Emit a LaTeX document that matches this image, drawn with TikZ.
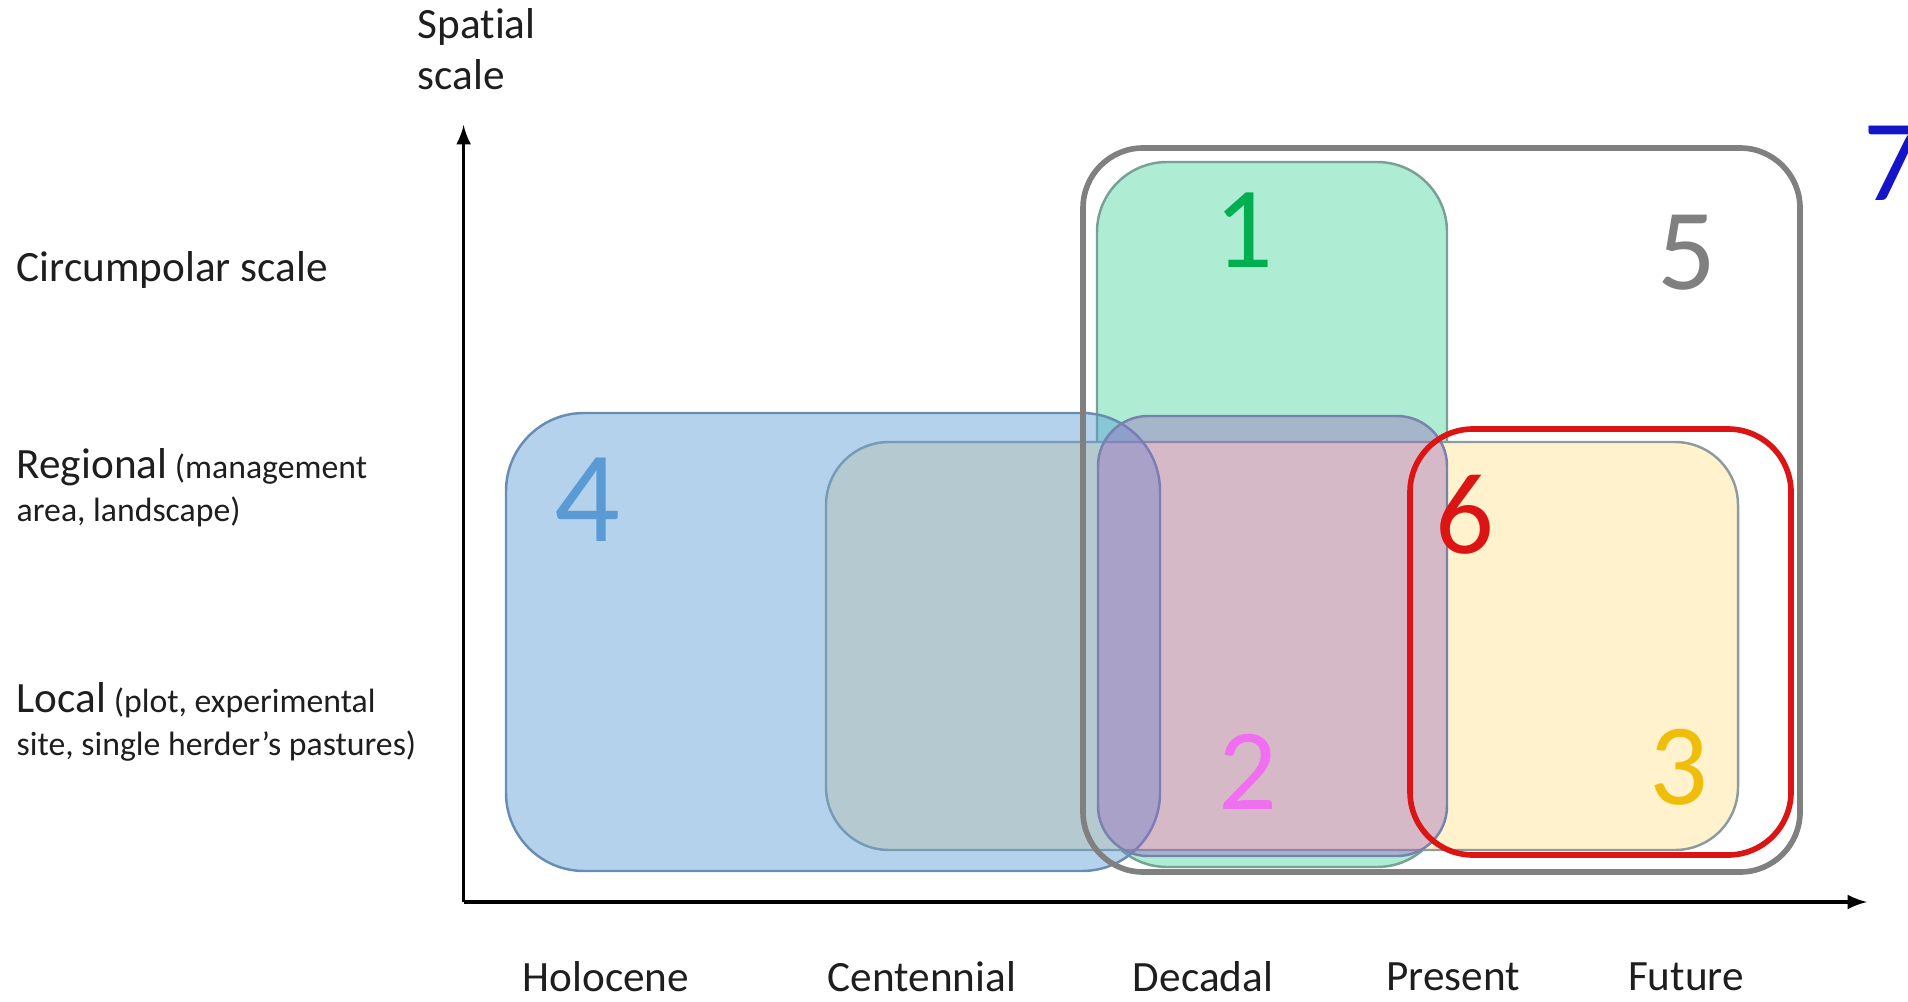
\documentclass[tikz,border=0pt]{standalone}
\usepackage{fontspec}
\setmainfont{Carlito}[Ligatures=NoCommon]
\definecolor{green1}{RGB}{174,236,212}
\definecolor{green1edge}{RGB}{120,160,150}
\definecolor{yellow3}{RGB}{255,242,204}
\definecolor{yellow3edge}{RGB}{140,155,160}
\definecolor{blue4}{RGB}{91,155,213}
\definecolor{blue4edge}{RGB}{105,140,180}
\definecolor{purple2}{RGB}{153,100,189}
\definecolor{purple2edge}{RGB}{120,130,175}
\definecolor{gray5}{RGB}{128,128,128}
\definecolor{red6}{RGB}{220,20,20}
\definecolor{txtgray}{RGB}{30,30,30}

\begin{document}
\begin{tikzpicture}[
		pane/.style={line width=0.7pt},
		frame/.style={line width=1.6pt, rounded corners=6mm},
		num/.style={inner sep=0pt, font=\fontsize{33}{33}\selectfont},
		scalelbl/.style={anchor=west, align=left, inner sep=0pt, text=txtgray, font=\fontsize{9.6}{12.1}\selectfont},
		timelbl/.style={inner sep=0pt, text=txtgray, font=\fontsize{12.3}{14}\selectfont}
	]
	\useasboundingbox (0,0) rectangle (19.08,10.01);
	\coordinate (origin) at (4.636,0.99);
	\coordinate (ytip) at (4.636,8.76);
	\coordinate (xtip) at (18.67,0.99);

	\filldraw[pane, fill=green1, draw=green1edge, rounded corners=7mm] (10.97,1.34) rectangle (14.47,8.39);
	\filldraw[pane, fill=yellow3, draw=yellow3edge, rounded corners=6.3mm] (8.26,1.51) rectangle (17.38,5.59);
	\filldraw[pane, fill=blue4, fill opacity=0.45, draw=blue4edge, rounded corners=7.8mm] (5.06,1.30) rectangle (11.60,5.88);
	\filldraw[pane, fill=purple2, fill opacity=0.4, draw=purple2edge, rounded corners=5mm] (10.98,1.45) rectangle (14.47,5.85);
	\draw[frame, draw=gray5] (10.83,1.29) rectangle (18.00,8.53);
	\draw[frame, draw=red6, rounded corners=6.3mm] (14.10,1.46) rectangle (17.91,5.72);

	\draw[line width=0.9pt, -latex] (origin) -- (ytip);
	\draw[line width=0.9pt, -latex] (origin) -- (xtip);

	\node[num, text={rgb,255:red,0;green,176;blue,80}] (n1) at (12.44,7.71) {1};
	\node[num, text={rgb,255:red,240;green,110;blue,240}] (n2) at (12.48,2.29) {2};
	\node[num, text={rgb,255:red,238;green,190;blue,10}] (n3) at (16.79,2.34) {3};
	\node[num, text=blue4, font=\fontsize{37}{37}\selectfont] (n4) at (5.87,5.01) {4};
	\node[num, text=gray5] (n5) at (16.87,7.48) {5};
	\node[num, text=red6] (n6) at (14.65,4.86) {6};
	\node[num, text={rgb,255:red,20;green,20;blue,200}] (n7) at (18.93,8.38) {7};

	\node[scalelbl, font=\fontsize{12.3}{14.5}\selectfont] (spatial) at (4.17,9.515) {Spatial\\scale};
	\node[scalelbl, font=\fontsize{12.3}{14}\selectfont] (circumpolar) at (0.16,7.31) {Circumpolar scale};
	\node[scalelbl] (regional) at (0.16,5.135) {{\fontsize{12.3}{12.1}\selectfont Regional} (management\\area, landscape)};
	\node[scalelbl] (local) at (0.16,2.79) {{\fontsize{12.3}{12.1}\selectfont Local} (plot, experimental\\site, single herder’s pastures)};

	\node[timelbl] (holocene) at (6.06,0.24) {Holocene};
	\node[timelbl] (centennial) at (9.22,0.24) {Centennial};
	\node[timelbl] (decadal) at (12.03,0.24) {Decadal};
	\node[timelbl] (present) at (14.53,0.24) {Present};
	\node[timelbl] (future) at (16.86,0.24) {Future};
\end{tikzpicture}
\end{document}
